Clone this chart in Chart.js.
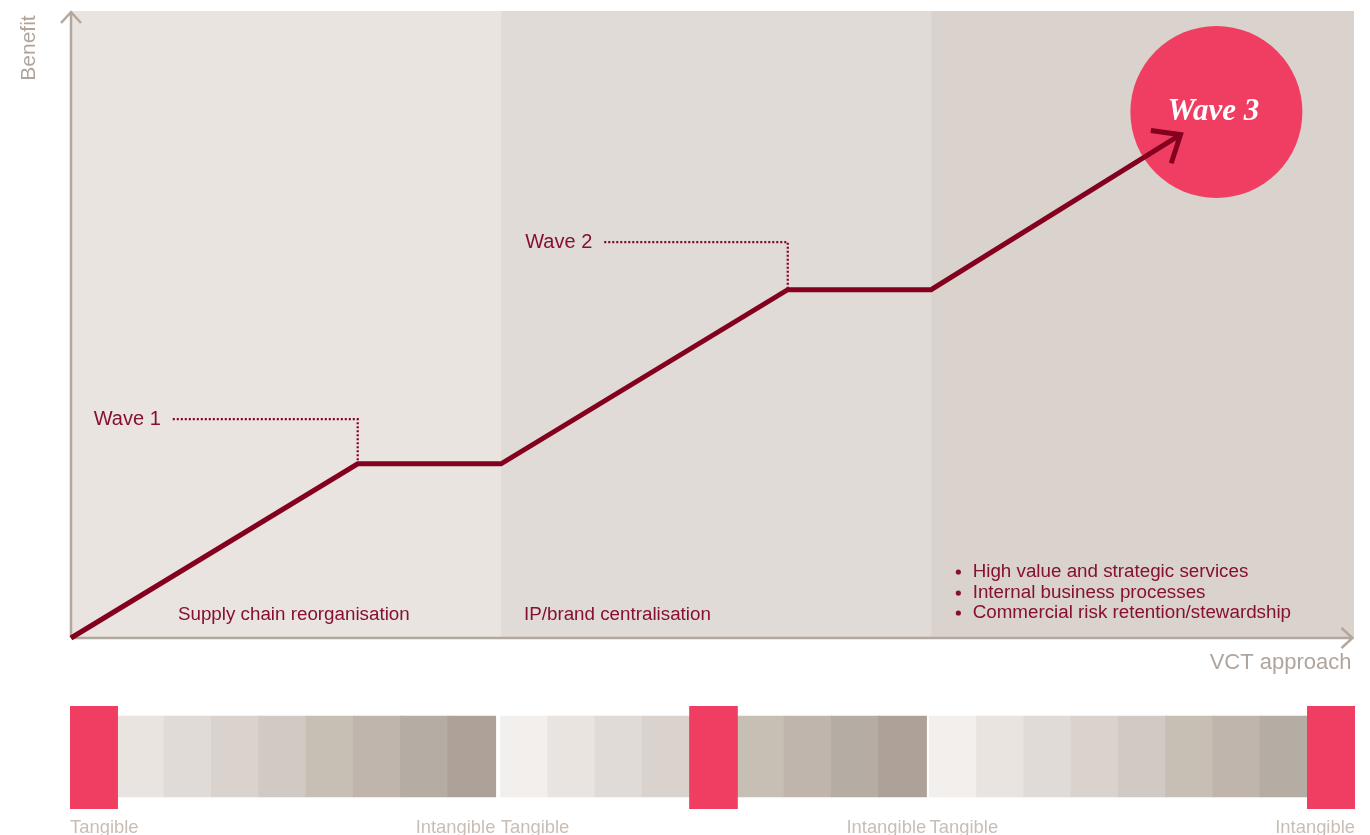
<!DOCTYPE html>
<html>
<head>
<meta charset="utf-8">
<title>VCT approach</title>
<script src="https://cdn.jsdelivr.net/npm/chart.js@4.4.1/dist/chart.umd.min.js"></script>
<style>
  html, body { margin: 0; padding: 0; background: #fff; }
  canvas { display: block; }
</style>
</head>
<body>
<canvas id="waveChart" width="1370" height="700"></canvas>
<canvas id="scaleChart" width="1370" height="135"></canvas>
<script>
'use strict';

// benefit curve, x measured in zone units (3 per zone)
const stepX = [0, 2, 3, 5, 6, 7.74];
const benefit = [0, 1, 1, 2, 2, 2.89];

const zoneEdges = [0, 3, 6, 8.95];
const zoneLabels = ['Supply chain reorganisation', 'IP/brand centralisation'];
const wave3Bullets = ['High value and strategic services', 'Internal business processes', 'Commercial risk retention/stewardship'];

const waves = ['Wave 1', 'Wave 2', 'Wave 3'];
const waveLabelY = [1.257, 2.273];
const waveLeaderX = [0.71, 3.72];
const wave3Spot = {x: 7.99, y: 3.02};

// tangible -> intangible strip
const scaleEnds = ['Tangible', 'Intangible'];
const shades = ['#f2efec', '#e9e4e0', '#e0dbd6', '#d9d2cd', '#d1c9c3', '#c7beb4', '#bfb5ac', '#b5aca3', '#aea298'];
const wavePosition = [0, 4, 8];

const BURGUNDY = '#84001f';
const TEXT_RED = '#86112f';
const AXIS = '#b3a89f';
const GREY_TEXT = '#b0a59c';
const PINK = '#f03e62';
const SANS = '"Liberation Sans", Arial, sans-serif';
const zoneColors = ['#e9e4e0', '#e0dbd6', '#d9d2cd'];

const linePts = stepX.map((x, i) => ({x: x, y: benefit[i]}));
const leaders = waveLabelY.map((y, i) => {
    const k = i * 2 + 1;
    return [{x: waveLeaderX[i], y: y}, {x: stepX[k], y: y}, {x: stepX[k], y: benefit[k]}];
});

const zoneFill = {
    id: 'zoneFill',
    beforeDatasetsDraw(chart) {
        const {ctx, chartArea, scales: {x, y}} = chart;
        const y0 = y.getPixelForValue(0);
        ctx.save();
        zoneColors.forEach((c, i) => {
            const x0 = x.getPixelForValue(zoneEdges[i]);
            const x1 = x.getPixelForValue(zoneEdges[i + 1]);
            ctx.fillStyle = c;
            ctx.fillRect(x0, chartArea.top, x1 - x0, y0 - chartArea.top);
        });

        // axes with open arrow heads
        const ox = x.getPixelForValue(0);
        const tipX = chartArea.right - 1.5;
        const tipY = chartArea.top + 1;
        ctx.strokeStyle = AXIS;
        ctx.lineWidth = 2.5;
        ctx.beginPath();
        ctx.moveTo(ox, y0);
        ctx.lineTo(ox, tipY);
        ctx.moveTo(ox - 10, tipY + 11);
        ctx.lineTo(ox, tipY);
        ctx.lineTo(ox + 10, tipY + 11);
        ctx.moveTo(ox, y0);
        ctx.lineTo(tipX, y0);
        ctx.moveTo(tipX - 11, y0 - 10);
        ctx.lineTo(tipX, y0);
        ctx.lineTo(tipX - 11, y0 + 10);
        ctx.stroke();

        ctx.fillStyle = GREY_TEXT;
        ctx.font = '22px ' + SANS;
        ctx.textAlign = 'right';
        ctx.textBaseline = 'middle';
        ctx.fillText('VCT approach', tipX - 1, y0 + 25);
        ctx.translate(29, 48);
        ctx.rotate(-Math.PI / 2);
        ctx.textAlign = 'center';
        ctx.font = '21px ' + SANS;
        ctx.fillText('Benefit', 0, 0);
        ctx.restore();
    }
};

const labels = {
    id: 'labels',
    afterDatasetsDraw(chart) {
        const {ctx, scales: {x, y}} = chart;
        ctx.save();

        // arrow head at the end of the benefit line
        const pts = chart.getDatasetMeta(0).data;
        const a = pts[pts.length - 2], b = pts[pts.length - 1];
        const ang = Math.atan2(b.y - a.y, b.x - a.x);
        const len = 30, spread = 40 * Math.PI / 180;
        ctx.strokeStyle = BURGUNDY;
        ctx.lineWidth = 5;
        ctx.lineJoin = 'miter';
        ctx.beginPath();
        ctx.moveTo(b.x - len * Math.cos(ang - spread), b.y - len * Math.sin(ang - spread));
        ctx.lineTo(b.x, b.y);
        ctx.lineTo(b.x - len * Math.cos(ang + spread), b.y - len * Math.sin(ang + spread));
        ctx.stroke();

        ctx.fillStyle = TEXT_RED;
        ctx.textBaseline = 'middle';
        ctx.font = '20px ' + SANS;
        ctx.textAlign = 'right';
        waveLabelY.forEach((wy, i) => {
            ctx.fillText(waves[i], x.getPixelForValue(waveLeaderX[i]) - 12, y.getPixelForValue(wy));
        });

        ctx.textAlign = 'left';
        ctx.font = '18.8px ' + SANS;
        ctx.fillText(zoneLabels[0], x.getPixelForValue(0.746), y.getPixelForValue(0.132));
        ctx.fillText(zoneLabels[1], x.getPixelForValue(3.16), y.getPixelForValue(0.132));
        const bulletY = [0.379, 0.258, 0.1435];
        wave3Bullets.forEach((t, i) => {
            const py = y.getPixelForValue(bulletY[i]);
            ctx.beginPath();
            ctx.arc(x.getPixelForValue(6.19), py, 2.6, 0, Math.PI * 2);
            ctx.fill();
            ctx.fillText(t, x.getPixelForValue(6.29), py);
        });

        ctx.fillStyle = '#fff';
        ctx.textAlign = 'center';
        ctx.font = 'italic bold 31px "Liberation Serif", Georgia, serif';
        ctx.fillText(waves[2], x.getPixelForValue(wave3Spot.x) - 3, y.getPixelForValue(wave3Spot.y));
        ctx.restore();
    }
};

new Chart(document.getElementById('waveChart'), {
    type: 'line',
    data: {
        datasets: [{
            label: 'Benefit',
            data: linePts,
            borderColor: BURGUNDY,
            borderWidth: 5,
            borderJoinStyle: 'miter',
            pointRadius: 0,
            tension: 0,
            clip: false,
            order: 1
        }, {
            label: waves[0],
            data: leaders[0],
            borderColor: BURGUNDY,
            borderWidth: 2.2,
            borderDash: [2, 2],
            pointRadius: 0,
            order: 2
        }, {
            label: waves[1],
            data: leaders[1],
            borderColor: BURGUNDY,
            borderWidth: 2.2,
            borderDash: [2, 2],
            pointRadius: 0,
            order: 2
        }, {
            type: 'bubble',
            label: waves[2],
            data: [{x: wave3Spot.x, y: wave3Spot.y, r: 86}],
            backgroundColor: PINK,
            borderWidth: 0,
            clip: false,
            order: 3
        }]
    },
    options: {
        responsive: false,
        animation: false,
        layout: { autoPadding: false, padding: { left: 71, right: 16, top: 11, bottom: 62 } },
        scales: {
            x: { type: 'linear', min: 0, max: 8.95, display: false },
            y: { min: 0, max: 3.6, display: false }
        },
        plugins: { legend: { display: false }, tooltip: { enabled: false } }
    },
    plugins: [zoneFill, labels]
});

// strip: 3 segments of 9 cells, segment starts in cell units
const segStart = [0, 9.114, 18.186];
const cells = [];
const cellColors = [];
const markers = [];
wavePosition.forEach((p, s) => {
    shades.forEach((c, i) => {
        cells.push({x: segStart[s] + i + 0.5, y: [0.117, 0.903]});
        cellColors.push(c);
    });
    markers.push({x: segStart[s] + p + 0.5, y: [0, 1]});
});

const scaleLabels = {
    id: 'scaleLabels',
    afterDatasetsDraw(chart) {
        const {ctx, scales: {x}} = chart;
        ctx.save();
        ctx.fillStyle = '#c8beb6';
        ctx.font = '18.4px ' + SANS;
        ctx.textBaseline = 'alphabetic';
        segStart.forEach(s0 => {
            ctx.textAlign = 'left';
            ctx.fillText(scaleEnds[0], x.getPixelForValue(s0), 133);
            ctx.textAlign = 'right';
            ctx.fillText(scaleEnds[1], x.getPixelForValue(s0 + 9), 133);
        });
        ctx.restore();
    }
};

new Chart(document.getElementById('scaleChart'), {
    type: 'bar',
    data: {
        datasets: [{
            label: 'scale',
            data: cells,
            backgroundColor: cellColors,
            barThickness: 48,
            grouped: false,
            borderWidth: 0,
            order: 2
        }, {
            label: 'wave',
            data: markers,
            backgroundColor: PINK,
            barThickness: 48,
            grouped: false,
            borderWidth: 0,
            order: 1
        }]
    },
    options: {
        responsive: false,
        animation: false,
        layout: { autoPadding: false, padding: { left: 70, right: 15, top: 6, bottom: 26 } },
        scales: {
            x: { type: 'linear', offset: false, min: 0, max: 27.186, display: false },
            y: { min: 0, max: 1, display: false }
        },
        plugins: { legend: { display: false }, tooltip: { enabled: false } }
    },
    plugins: [scaleLabels]
});
</script>
</body>
</html>
